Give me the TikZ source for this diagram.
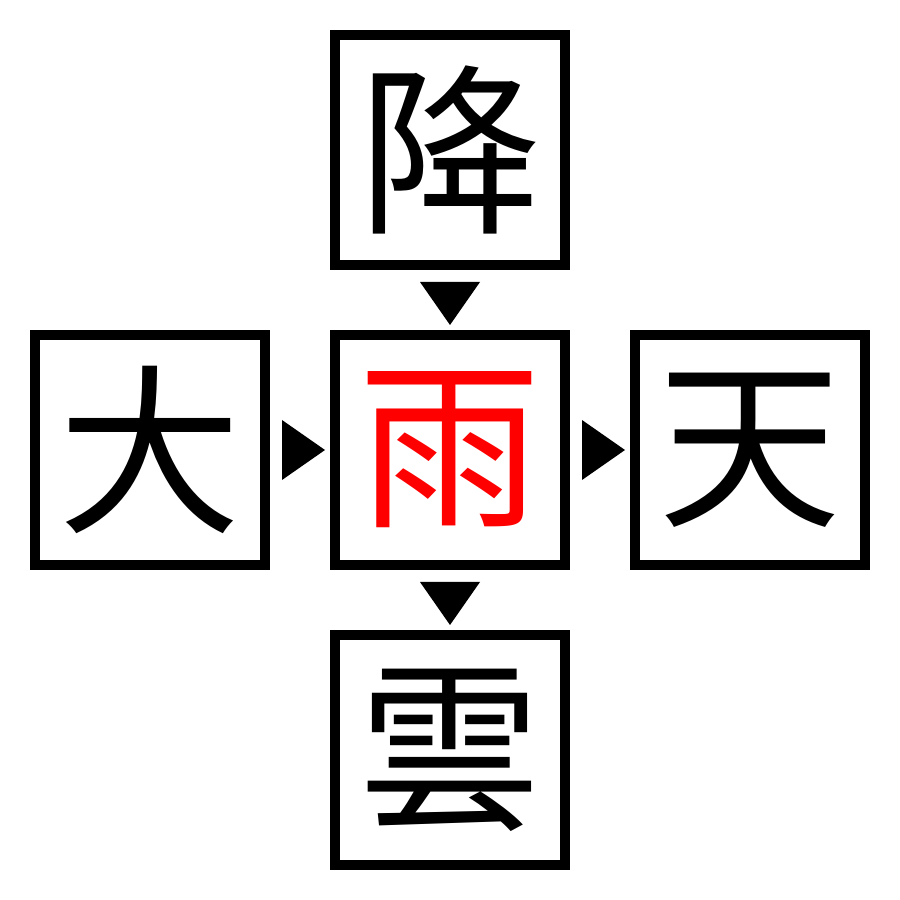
\documentclass[tikz,border=0pt]{standalone}
\usepackage{fontspec}
\usepackage{xcolor}
\newfontfamily\cjk{Noto Sans CJK JP}
\usetikzlibrary{positioning, calc}
\tikzset{
	kanji/.style={rectangle, draw, line width=0.1cm, minimum size=2.3cm, inner sep=0pt, font=\cjk\fontsize{52}{52}\selectfont},
	pointer/.style={fill=black}
}

\begin{document}
\begin{tikzpicture}[node distance=0.6cm]
	\useasboundingbox (0,0) rectangle (9,9);
	% Centre box and its neighbours
	\node[kanji, text=red] (rain) at (4.5,4.5) {雨};
	\node[kanji] (fall) [above=of rain] {降};
	\node[kanji] (cloud) [below=of rain] {雲};
	\node[kanji] (big) [left=of rain] {大};
	\node[kanji] (sky) [right=of rain] {天};
	
	% Pointers between the boxes
	\coordinate (p1) at ($(fall.south)!0.5!(rain.north)$);
	\coordinate (p2) at ($(rain.south)!0.5!(cloud.north)$);
	\coordinate (p3) at ($(big.east)!0.5!(rain.west)$);
	\coordinate (p4) at ($(rain.east)!0.5!(sky.west)$);
	\fill[pointer] (p1) +(-0.3,0.18) -- +(0.3,0.18) -- +(0,-0.25) -- cycle;
	\fill[pointer] (p2) +(-0.3,0.18) -- +(0.3,0.18) -- +(0,-0.25) -- cycle;
	\fill[pointer] (p3) +(-0.18,0.3) -- +(-0.18,-0.3) -- +(0.25,0) -- cycle;
	\fill[pointer] (p4) +(-0.18,0.3) -- +(-0.18,-0.3) -- +(0.25,0) -- cycle;
\end{tikzpicture}
\end{document}
